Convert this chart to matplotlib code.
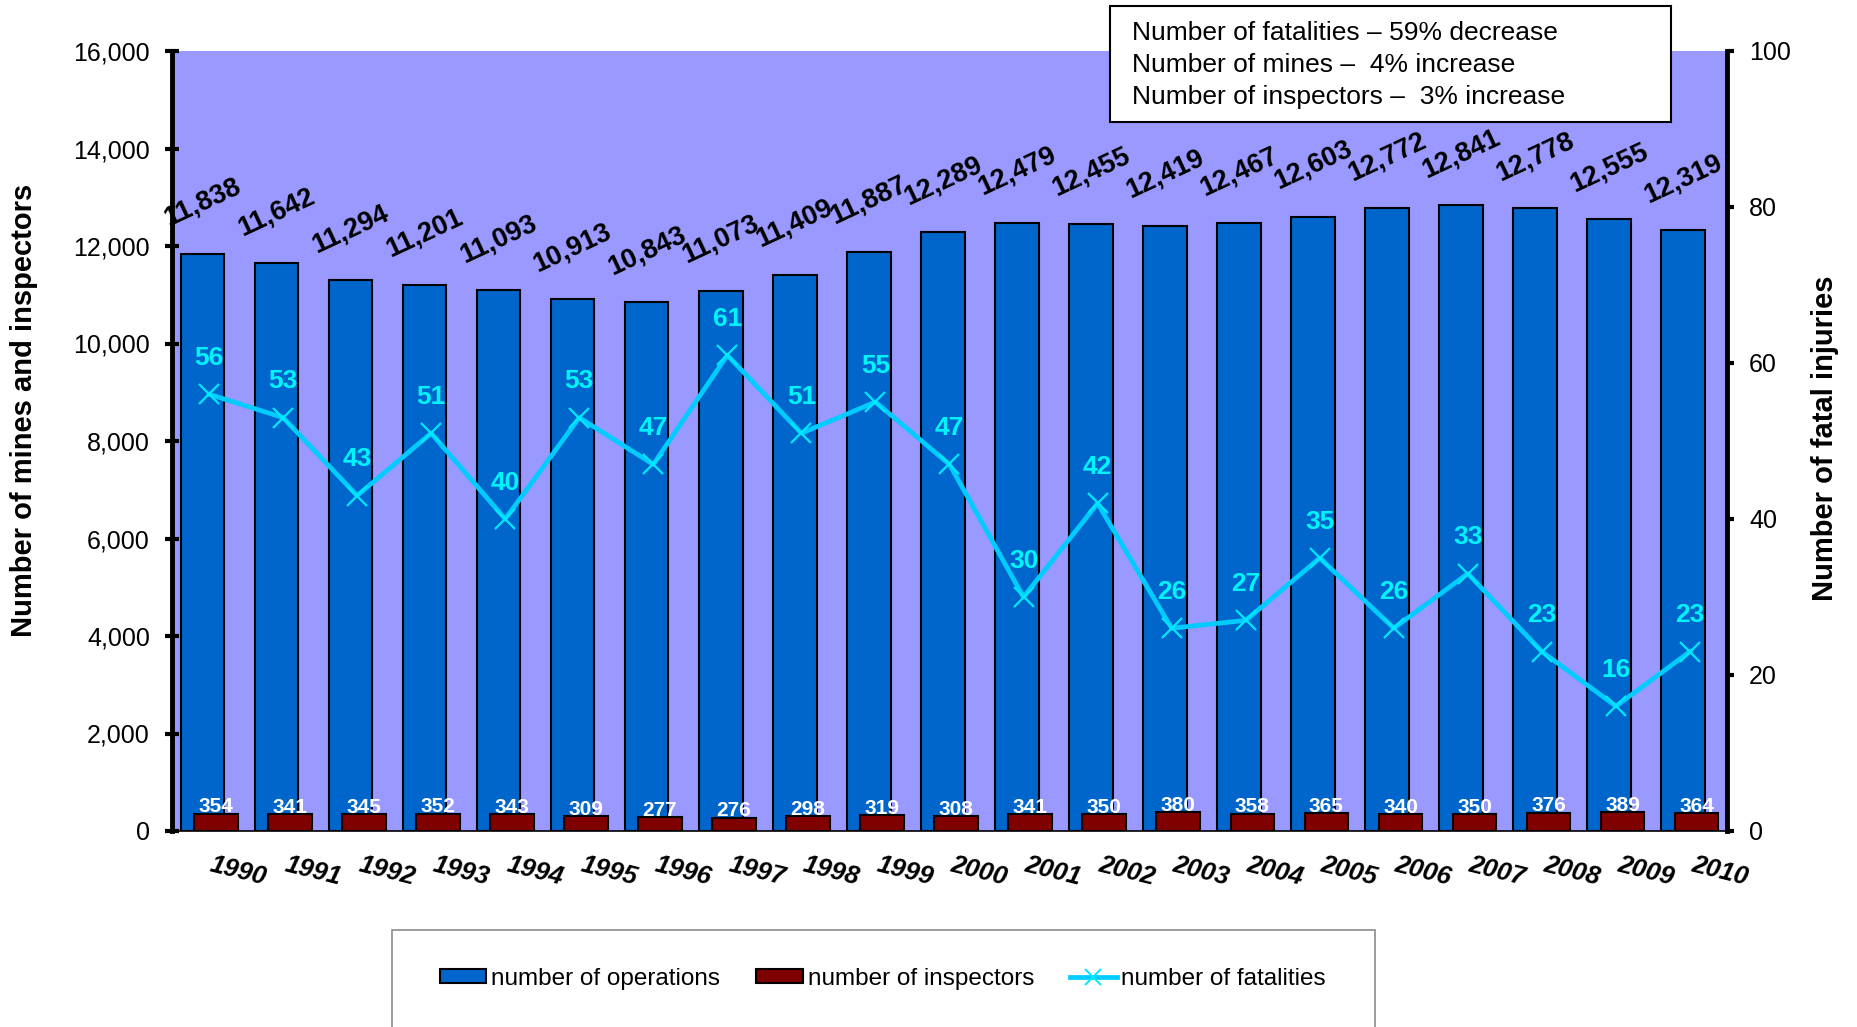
import matplotlib
matplotlib.use("Agg")
import matplotlib.pyplot as plt
from matplotlib import font_manager
from matplotlib.patches import Rectangle, Patch
from matplotlib.lines import Line2D
from matplotlib.ticker import FuncFormatter, MultipleLocator
import numpy as np

# ---------------- data ----------------
years = [str(y) for y in range(1990, 2011)]
operations = [11838, 11642, 11294, 11201, 11093, 10913, 10843, 11073, 11409, 11887,
              12289, 12479, 12455, 12419, 12467, 12603, 12772, 12841, 12778, 12555, 12319]
inspectors = [354, 341, 345, 352, 343, 309, 277, 276, 298, 319,
              308, 341, 350, 380, 358, 365, 340, 350, 376, 389, 364]
fatalities = [56, 53, 43, 51, 40, 53, 47, 61, 51, 55,
              47, 30, 42, 26, 27, 35, 26, 33, 23, 16, 23]
box_lines = ["Number of fatalities \u2013 59% decrease",
             "Number of mines \u2013  4% increase",
             "Number of inspectors \u2013  3% increase"]
legend_labels = ["number of operations", "number of inspectors", "number of fatalities"]

# ---------------- fonts ----------------
names = {f.name for f in font_manager.fontManager.ttflist}
BASE = "Liberation Sans" if "Liberation Sans" in names else "DejaVu Sans"
plt.rcParams["font.family"] = [BASE, "DejaVu Sans"]

W, H = 1858, 1027
fig = plt.figure(figsize=(W / 100, H / 100), dpi=100)
L, R, T, B = 172, 1727, 51, 831
ax = fig.add_axes([L / W, 1 - B / H, (R - L) / W, (B - T) / H])
ax.set_facecolor("#9999FF")

x = np.arange(len(years))
blue = "#0066CC"
maroon = "#800000"
cyan_line = "#00CCFF"
cyan_text = "#00F4FF"

ax.bar(x - 0.09, operations, width=0.59, color=blue, edgecolor="black", linewidth=1.5, zorder=2)
ax.bar(x + 0.09, inspectors, width=0.59, color=maroon, edgecolor="black", linewidth=1.5, zorder=3)

ax.set_xlim(-0.5, len(years) - 0.5)
ax.set_ylim(0, 16000)
ax.yaxis.set_major_locator(MultipleLocator(2000))
ax.yaxis.set_major_formatter(FuncFormatter(lambda v, p: f"{v:,.0f}"))
ax.set_xticks([])
for s in ["top", "right"]:
    ax.spines[s].set_visible(False)
ax.spines["left"].set_linewidth(3.5)
ax.spines["bottom"].set_linewidth(1.2)
ax.tick_params(axis="y", direction="inout", length=10, width=3, pad=11, labelsize=18)

# bar value labels
for xi, v in zip(x, operations):
    ax.annotate(f"{v:,}", (xi - 0.09, v), xytext=(0, 37), textcoords="offset points",
                ha="center", va="center", rotation=25, fontsize=19.5, fontweight="bold",
                color="black", zorder=6)
for xi, v in zip(x, inspectors):
    ax.annotate(f"{v}", (xi + 0.09, v), xytext=(0, 1), textcoords="offset points",
                ha="center", va="baseline", fontsize=15, fontweight="bold",
                color="white", zorder=6)

# year labels
xt = ax.get_xaxis_transform()
for xi, yr in zip(x, years):
    ax.text(xi + 0.4, -0.052, yr, transform=xt, ha="center", va="center",
            rotation=-14, fontsize=18.5, fontweight="bold", fontstyle="italic", clip_on=False)

# fatalities on right axis
ax2 = ax.twinx()
ax2.plot(x, fatalities, color=cyan_line, linewidth=3.4, marker="x", markersize=14,
         markeredgewidth=1.6, markeredgecolor="#00E8FF", zorder=4)
ax2.set_ylim(0, 100)
ax2.yaxis.set_major_locator(MultipleLocator(20))
for s in ["top", "left", "bottom"]:
    ax2.spines[s].set_visible(False)
ax2.spines["right"].set_linewidth(3.5)
ax2.tick_params(axis="y", direction="out", length=5, width=3, pad=11, labelsize=18)
for xi, v in zip(x, fatalities):
    ax2.annotate(f"{v}", (xi, v), xytext=(0, 26), textcoords="offset points",
                 ha="center", va="center", fontsize=19, fontweight="bold", color=cyan_text)

# axis titles
fig.text(24 / W, 1 - 410 / H, "Number of mines and inspectors", rotation=90,
         ha="center", va="center", fontsize=21, fontweight="bold")
fig.text(1825 / W, 1 - 438 / H, "Number of fatal injuries", rotation=90,
         ha="center", va="center", fontsize=21, fontweight="bold")

# annotation box
fig.patches.append(Rectangle((1110 / W, 1 - 122 / H), (1671 - 1110) / W, (122 - 6) / H,
                             transform=fig.transFigure, facecolor="white",
                             edgecolor="black", linewidth=1.5, zorder=10))
for i, line in enumerate(box_lines):
    fig.text(1132 / W, 1 - (33 + 32 * i) / H, line, ha="left", va="center",
             fontsize=19, zorder=11)

# legend frame + legend
fig.patches.append(Rectangle((392 / W, -0.05), (1375 - 392) / W, (1 - 930 / H) + 0.05,
                             transform=fig.transFigure, facecolor="white",
                             edgecolor="#8C8C8C", linewidth=1.2, zorder=10))
handles = [Patch(facecolor=blue, edgecolor="black", linewidth=1.5),
           Patch(facecolor=maroon, edgecolor="black", linewidth=1.5),
           Line2D([], [], color=cyan_line, linewidth=3.4, marker="x", markersize=12,
                  markeredgewidth=1.4, markeredgecolor="#00E8FF")]
leg = fig.legend(handles, legend_labels, loc="center", bbox_to_anchor=(883 / W, 1 - 979 / H),
                 ncol=3, frameon=False, handlelength=1.9, handleheight=0.5,
                 handletextpad=0.2, columnspacing=1.5,
                 prop=font_manager.FontProperties(family=[BASE], size=17.5))
leg.set_zorder(11)

fig.savefig("out.png", dpi=100)
